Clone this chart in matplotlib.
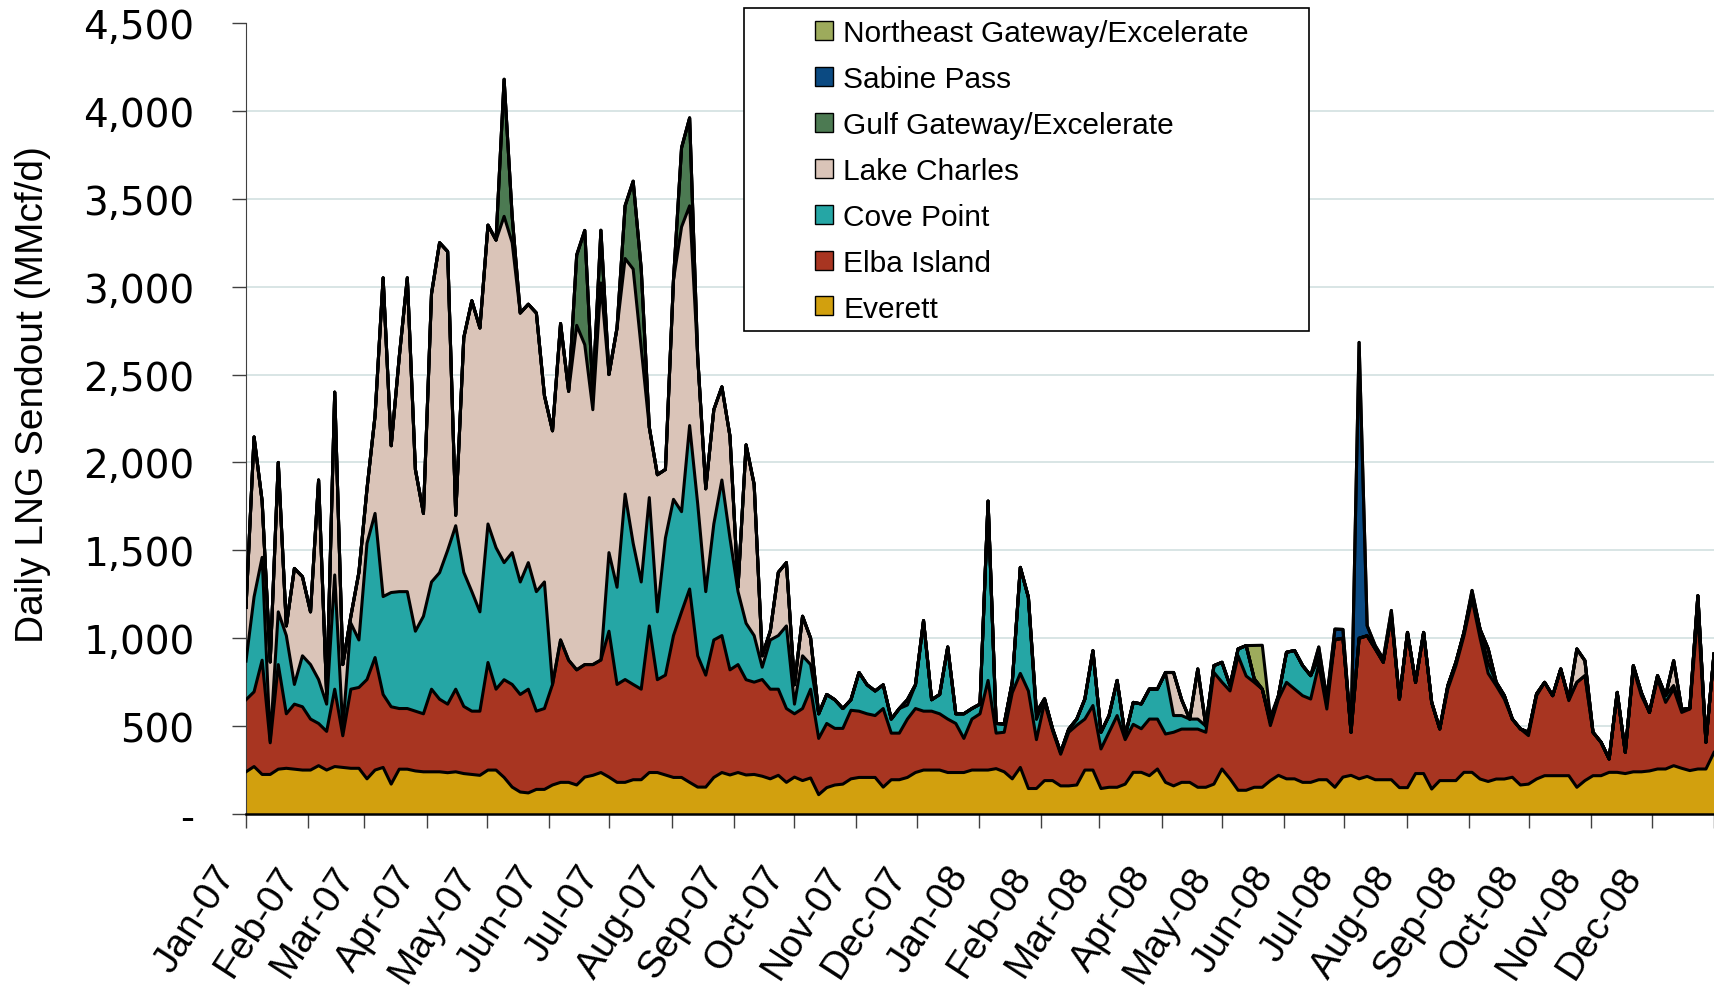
import numpy as np
import pandas as pd
import matplotlib
matplotlib.use("Agg")
import matplotlib.pyplot as plt
import matplotlib.transforms as mtransforms
from matplotlib.patches import Patch, Rectangle

plt.rcParams["font.family"] = ["Liberation Sans", "DejaVu Sans"]

# daily LNG sendout, MMcf/d, every 4 days
# (Jan 1 2007 .. Jan 1 2009), one row = 40 days
everett = [
    240, 270, 225, 225, 255, 260, 255, 250, 250, 275,
    250, 270, 265, 260, 260, 200, 250, 265, 170, 255,
    255, 245, 240, 240, 240, 235, 240, 230, 225, 220,
    250, 250, 208, 153, 125, 120, 140, 140, 165, 180,
    180, 165, 210, 220, 236, 210, 180, 180, 195, 195,
    236, 236, 222, 208, 208, 180, 153, 153, 208, 236,
    222, 236, 222, 225, 215, 200, 220, 180, 210, 190,
    205, 110, 150, 165, 170, 200, 208, 208, 208, 153,
    195, 195, 208, 236, 250, 250, 250, 236, 236, 236,
    250, 250, 250, 258, 240, 200, 265, 145, 145, 190,
    190, 160, 160, 165, 250, 250, 145, 152, 152, 170,
    237, 237, 218, 256, 180, 160, 180, 180, 152, 152,
    170, 256, 200, 135, 135, 152, 152, 190, 220, 200,
    200, 180, 180, 195, 195, 152, 210, 220, 200, 214,
    195, 195, 195, 150, 150, 230, 230, 142, 190, 190,
    190, 237, 237, 199, 185, 199, 199, 209, 165, 170,
    199, 218, 218, 218, 218, 152, 190, 218, 218, 237,
    237, 230, 240, 240, 245, 256, 256, 275, 260, 247,
    256, 256, 350,
]
elba = [
    410, 425, 650, 180, 595, 310, 370, 360, 290, 240,
    220, 440, 180, 450, 460, 565, 640, 415, 440, 345,
    345, 340, 330, 470, 413, 390, 470, 382, 360, 365,
    612, 460, 556, 584, 555, 590, 445, 460, 572, 810,
    695, 655, 640, 630, 640, 830, 557, 585, 542, 515,
    834, 528, 568, 807, 942, 1100, 747, 637, 782, 779,
    598, 614, 542, 525, 550, 510, 490, 420, 360, 410,
    505, 320, 365, 322, 317, 390, 377, 362, 352, 447,
    265, 265, 332, 364, 335, 335, 320, 304, 279, 194,
    290, 320, 510, 202, 225, 490, 535, 555, 278, 445,
    284, 180, 305, 340, 290, 367, 225, 313, 408, 253,
    273, 248, 322, 284, 275, 305, 303, 303, 331, 313,
    635, 494, 500, 765, 650, 597, 558, 313, 434, 549,
    511, 493, 474, 655, 402, 840, 790, 245, 800, 800,
    745, 668, 933, 504, 883, 519, 803, 493, 294, 521,
    654, 777, 986, 801, 615, 531, 455, 331, 319, 276,
    474, 531, 455, 607, 427, 597, 597, 247, 190, 76,
    455, 121, 585, 433, 333, 512, 379, 436, 318, 350,
    894, 152, 560,
]
cove = [
    220, 540, 585, 10, 300, 445, 112, 290, 310, 250,
    155, 650, 40, 375, 270, 775, 820, 557, 650, 665,
    665, 455, 555, 610, 720, 875, 930, 763, 680, 565,
    788, 805, 666, 750, 640, 720, 680, 720, 0, 0,
    0, 0, 0, 0, 0, 447, 553, 1055, 803, 610,
    730, 386, 780, 775, 570, 930, 865, 475, 660, 885,
    750, 415, 321, 265, 70, 280, 305, 470, 55, 300,
    140, 140, 165, 163, 113, 60, 220, 165, 140, 135,
    80, 140, 80, 135, 515, 65, 110, 410, 55, 140,
    60, 55, 1020, 55, 47, 60, 603, 533, 115, 20,
    10, 10, 18, 35, 114, 312, 95, 95, 200, 22,
    125, 141, 171, 171, 350, 95, 77, 57, 57, 35,
    39, 113, 30, 39, 173, 20, 0, 19, 19, 171,
    219, 171, 133, 40, 60, 0, 0, 0, 0, 0,
    0, 0, 0, 0, 0, 0, 0, 0, 0, 19,
    19, 19, 29, 50, 60, 19, 20, 0, 0, 19,
    10, 0, 0, 0, 10, 0, 0, 0, 0, 0,
    0, 0, 19, 17, 0, 19, 38, 20, 17, 3,
    92, 0, 0,
]
lake_charles = [
    305, 910, 320, 450, 850, 55, 660, 450, 300, 1135,
    55, 1040, 365, 40, 385, 310, 555, 1813, 835, 1335,
    1785, 920, 585, 1640, 1877, 1700, 60, 1335, 1655, 1615,
    1700, 1750, 1970, 1763, 1530, 1470, 1585, 1060, 1443, 1800,
    1530, 1960, 1820, 1450, 2145, 1013, 1475, 1340, 1560, 1330,
    400, 780, 390, 1250, 1620, 1250, 835, 585, 650, 530,
    580, 25, 1015, 860, 65, 50, 360, 360, 110, 225,
    150, 0, 0, 0, 0, 0, 0, 0, 0, 0,
    0, 0, 30, 0, 0, 0, 0, 0, 0, 0,
    0, 0, 0, 0, 0, 0, 0, 0, 40, 0,
    0, 0, 0, 0, 0, 0, 0, 0, 0, 0,
    0, 0, 0, 0, 0, 245, 90, 0, 285, 0,
    0, 0, 0, 0, 0, 0, 0, 0, 0, 0,
    0, 0, 0, 0, 0, 0, 0, 0, 0, 0,
    0, 0, 0, 0, 0, 0, 0, 0, 0, 0,
    0, 0, 0, 0, 80, 0, 0, 0, 0, 0,
    0, 0, 0, 0, 0, 190, 85, 0, 0, 0,
    0, 0, 0, 0, 0, 0, 0, 141, 0, 0,
    0, 0, 0,
]
gulf_gateway = [
    0, 0, 0, 0, 0, 0, 0, 0, 0, 0,
    0, 0, 0, 0, 0, 0, 0, 0, 0, 0,
    0, 0, 0, 0, 0, 0, 0, 0, 0, 0,
    0, 0, 780, 150, 0, 0, 0, 0, 0, 0,
    0, 400, 650, 100, 300, 0, 0, 300, 500, 450,
    0, 0, 0, 0, 450, 500, 0, 0, 0, 0,
    0, 0, 0, 0, 0, 0, 0, 0, 0, 0,
    0, 0, 0, 0, 0, 0, 0, 0, 0, 0,
    0, 0, 0, 0, 0, 0, 0, 0, 0, 0,
    0, 0, 0, 0, 0, 0, 0, 0, 0, 0,
    0, 0, 0, 0, 0, 0, 0, 0, 0, 0,
    0, 0, 0, 0, 0, 0, 0, 0, 0, 0,
    0, 0, 0, 0, 0, 0, 0, 0, 0, 0,
    0, 0, 0, 0, 0, 0, 0, 0, 0, 0,
    0, 0, 0, 0, 0, 0, 0, 0, 0, 0,
    0, 0, 0, 0, 0, 0, 0, 0, 0, 0,
    0, 0, 0, 0, 0, 0, 0, 0, 0, 0,
    0, 0, 0, 0, 0, 0, 0, 0, 0, 0,
    0, 0, 0,
]
sabine_pass = [
    0, 0, 0, 0, 0, 0, 0, 0, 0, 0,
    0, 0, 0, 0, 0, 0, 0, 0, 0, 0,
    0, 0, 0, 0, 0, 0, 0, 0, 0, 0,
    0, 0, 0, 0, 0, 0, 0, 0, 0, 0,
    0, 0, 0, 0, 0, 0, 0, 0, 0, 0,
    0, 0, 0, 0, 0, 0, 0, 0, 0, 0,
    0, 0, 0, 0, 0, 0, 0, 0, 0, 0,
    0, 0, 0, 0, 0, 0, 0, 0, 0, 0,
    0, 0, 0, 0, 0, 0, 0, 0, 0, 0,
    0, 0, 0, 0, 0, 0, 0, 0, 0, 0,
    0, 0, 0, 0, 0, 0, 0, 0, 0, 0,
    0, 0, 0, 0, 0, 0, 0, 0, 0, 0,
    0, 0, 0, 0, 0, 0, 0, 0, 0, 0,
    0, 0, 0, 60, 0, 60, 50, 0, 1683, 57,
    18, 19, 30, 0, 0, 0, 0, 0, 0, 0,
    0, 0, 20, 0, 0, 0, 0, 0, 0, 0,
    0, 0, 0, 0, 0, 0, 0, 0, 0, 0,
    0, 0, 0, 0, 0, 0, 0, 0, 0, 0,
    0, 0, 0,
]
northeast_gateway = [
    0, 0, 0, 0, 0, 0, 0, 0, 0, 0,
    0, 0, 0, 0, 0, 0, 0, 0, 0, 0,
    0, 0, 0, 0, 0, 0, 0, 0, 0, 0,
    0, 0, 0, 0, 0, 0, 0, 0, 0, 0,
    0, 0, 0, 0, 0, 0, 0, 0, 0, 0,
    0, 0, 0, 0, 0, 0, 0, 0, 0, 0,
    0, 0, 0, 0, 0, 0, 0, 0, 0, 0,
    0, 0, 0, 0, 0, 0, 0, 0, 0, 0,
    0, 0, 0, 0, 0, 0, 0, 0, 0, 0,
    0, 0, 0, 0, 0, 0, 0, 0, 0, 0,
    0, 0, 0, 0, 0, 0, 0, 0, 0, 0,
    0, 0, 0, 0, 0, 0, 0, 0, 0, 0,
    0, 0, 0, 0, 0, 190, 250, 30, 0, 0,
    0, 0, 0, 0, 0, 0, 0, 0, 0, 0,
    0, 0, 0, 0, 0, 0, 0, 0, 0, 0,
    0, 0, 0, 0, 0, 0, 0, 0, 0, 0,
    0, 0, 0, 0, 0, 0, 0, 0, 0, 0,
    0, 0, 0, 0, 0, 0, 0, 0, 0, 0,
    0, 0, 0,
]

names = ["Everett", "Elba Island", "Cove Point", "Lake Charles",
         "Gulf Gateway/Excelerate", "Sabine Pass", "Northeast Gateway/Excelerate"]
colors = ["#d2a00e", "#a83521", "#25a6a5", "#dac4b8",
          "#4c7a52", "#0b4a82", "#9dab5c"]
series = [everett, elba, cove, lake_charles, gulf_gateway, sabine_pass, northeast_gateway]

dates = pd.date_range("2007-01-01", "2009-01-01", periods=len(everett))

fig = plt.figure(figsize=(17.15, 9.87), dpi=100)
ax = fig.add_axes([246 / 1715, 1 - 815 / 987, 1468 / 1715, 791 / 987])

for v in range(500, 4001, 500):
    ax.axhline(v, color="#d6e3e3", lw=1.3, zorder=0)

ax.stackplot(dates, *series, colors=colors, linewidth=0, zorder=2)
tops = np.cumsum(np.array(series, dtype=float), axis=0)
for t in tops:
    ax.plot(dates, t, color="black", lw=2.2, zorder=3, solid_joinstyle="round")

ax.set_xlim(dates[0], dates[-1])
ax.set_ylim(0, 4500)
ax.spines["top"].set_visible(False)
ax.spines["right"].set_visible(False)
ax.spines["left"].set_color("#404040")
ax.spines["bottom"].set_linewidth(1.8)

ax.set_yticks(range(0, 4501, 500))
ax.set_yticklabels(["-"] + [f"{v:,}" for v in range(500, 4501, 500)])
ax.tick_params(axis="y", length=10, width=1, color="#404040", pad=27, labelsize=28)
for lbl in ax.get_yticklabels():
    lbl.set_fontfamily("DejaVu Sans")

# month ticks; labels placed by hand, slanted, ending just left of each tick
months = pd.date_range("2007-01-01", "2009-01-01", freq="MS")
ax.set_xticks(months)
ax.set_xticklabels([])
ax.tick_params(axis="x", length=10, width=1, color="#404040")
lab_tr = ax.get_xaxis_transform() + mtransforms.ScaledTranslation(
    -3 / 100, -45 / 100, fig.dpi_scale_trans)
for m in months[:-1]:
    ax.text(m, 0, m.strftime("%b-%y"), transform=lab_tr, rotation=57,
            ha="right", va="top", fontsize=28, clip_on=False)

fig.text(33 / 1715, 1 - 395 / 987, "Daily LNG Sendout (MMcf/d)", rotation=90,
         ha="center", va="center", fontsize=28)

# legend box drawn separately, entries listed top layer first
frame = Rectangle((744 / 1715, 1 - 332 / 987), 565 / 1715, 323 / 987,
                  transform=fig.transFigure, facecolor="white", edgecolor="black",
                  lw=1.2, zorder=4)
fig.add_artist(frame)
handles = [Patch(facecolor=c, edgecolor="black", lw=1) for c in colors[::-1]]
fig.legend(handles, names[::-1], loc="upper left",
           bbox_to_anchor=(815 / 1715, 1 - 20 / 987), frameon=False, fontsize=21.5,
           handlelength=0.6, handleheight=0.6, handletextpad=0.35,
           labelspacing=0.6, borderpad=0, borderaxespad=0)

fig.savefig("out.png", dpi=100)
